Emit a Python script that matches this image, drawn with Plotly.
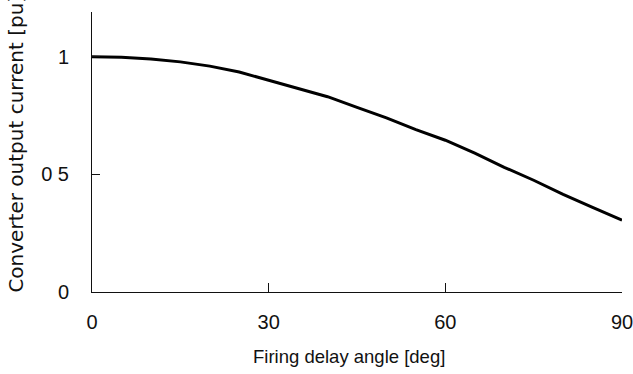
import plotly.graph_objects as go

angle_deg = [0, 5, 10, 15, 20, 25, 30, 35, 40, 45, 50, 55, 60, 65, 70, 75, 80, 85, 90]
current_pu = [1.000, 0.998, 0.990, 0.978, 0.960, 0.935, 0.900, 0.865, 0.830, 0.785,
              0.740, 0.690, 0.645, 0.590, 0.530, 0.475, 0.415, 0.360, 0.305]

x_ticks = [0, 30, 60, 90]
x_ticktext = ["0", "30", "60", "90"]
y_ticks = [0, 0.5, 1]
y_ticktext = ["0", "0 5", "1"]

TICK_FONT = "Liberation Sans"
TITLE_FONT = "DejaVu Sans"
INK = "#111111"

fig = go.Figure()
fig.add_trace(go.Scatter(x=angle_deg, y=current_pu, mode="lines",
                         line=dict(color="black", width=3), showlegend=False))

fig.update_layout(
    width=633, height=374,
    margin=dict(l=92, r=11, t=12, b=82),
    paper_bgcolor="white", plot_bgcolor="white",
    font=dict(family=TICK_FONT, size=20, color=INK),
    xaxis=dict(range=[0, 90], tickvals=x_ticks, ticktext=x_ticktext,
               ticks="inside", ticklen=9, tickcolor=INK, tickwidth=1,
               showline=True, linecolor=INK, linewidth=1,
               showgrid=False, zeroline=False, ticklabelstandoff=12,
               ticklabeloverflow="allow", automargin=False),
    yaxis=dict(range=[0, 1.19], tickvals=y_ticks, ticktext=y_ticktext,
               ticks="inside", ticklen=8, tickcolor=INK, tickwidth=1,
               showline=True, linecolor=INK, linewidth=1,
               showgrid=False, zeroline=False, ticklabelstandoff=18,
               ticklabeloverflow="allow", automargin=False),
    annotations=[
        dict(text="Firing delay angle [deg]", xref="paper", yref="paper",
             x=0.485, y=-0.232, xanchor="center", yanchor="middle",
             showarrow=False, font=dict(family=TICK_FONT, size=18.5, color=INK)),
        dict(text="Converter output current [pu]", xref="paper", yref="paper",
             x=-0.1434, y=0.53, xanchor="center", yanchor="middle", textangle=-90,
             showarrow=False, font=dict(family=TITLE_FONT, size=20, color=INK)),
    ],
)

fig.write_html("out.html")
